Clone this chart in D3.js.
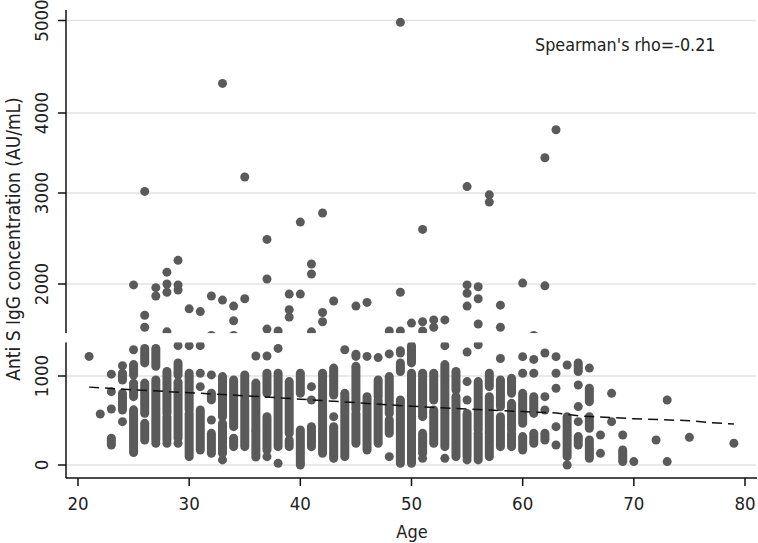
<!DOCTYPE html>
<html>
<head>
<meta charset="utf-8">
<script src="https://cdn.jsdelivr.net/npm/d3@7/dist/d3.min.js"></script>
<style>
  html, body { margin: 0; padding: 0; background: #fff; }
  svg { display: block; }
  text { font-family: "DejaVu Sans Condensed", "DejaVu Sans", sans-serif; fill: #222; }
</style>
</head>
<body>
<svg id="chart" width="758" height="543"></svg>
<script>
// tick labels
var xTicks = [20, 30, 40, 50, 60, 70, 80];
var yTicks = [0, 1000, 2000, 3000, 4000, 5000];

// lower cluster: [age, low, high] -- stacked dots read as a run
var lowerColumns = [
  [21,1213,1213],[22,573,573],
  [23,1020,1020],[23,824,824],[23,629,629],[23,225,300],
  [24,1112,1112],[24,955,1030],[24,618,805],[24,487,487],
  [25,1285,1285],[25,1011,1124],[25,768,918],[25,140,620],
  [26,1142,1300],[26,581,920],[26,281,468],
  [27,1105,1300],[27,281,955],[27,244,244],
  [28,581,1049],[28,281,543],[28,244,244],
  [29,1330,1330],[29,1011,1142],[29,300,930],[29,244,244],
  [30,1330,1330],[30,618,1030],[30,94,580],
  [31,1330,1330],[31,1030,1030],[31,880,880],[31,169,618],
  [32,1012,1012],[32,731,806],[32,506,506],[32,132,356],
  [33,543,993],[33,131,468],[33,57,57],
  [34,431,956],[34,206,300],
  [35,768,1011],[35,206,730],
  [36,1217,1217],[36,780,920],[36,400,770],[36,90,380],
  [37,1218,1218],[37,805,1030],[37,169,543],[37,94,94],
  [38,1300,1300],[38,206,1030],[38,19,19],
  [39,356,937],[39,206,280],
  [40,805,1030],[40,19,393],[40,0,0],
  [41,880,880],[41,730,730],[41,206,431],
  [42,131,1030],
  [43,787,1086],[43,543,543],[43,131,431],[43,75,113],
  [44,1285,1285],[44,94,805],
  [45,1213,1236],[45,618,1105],[45,244,580],
  [46,1213,1213],[46,169,768],
  [47,1200,1200],[47,768,955],[47,244,730],
  [48,1240,1240],[48,580,993],[48,356,506],[48,94,94],
  [49,1250,1274],[49,1049,1142],[49,19,730],
  [50,1142,1330],[50,19,1030],
  [51,543,1030],[51,131,356],[51,75,75],
  [52,730,1030],[52,244,618],
  [53,1330,1330],[53,206,1124],[53,75,75],
  [54,843,1049],[54,94,768],
  [55,1260,1260],[55,937,937],[55,730,730],[55,94,580],[55,57,57],
  [56,1340,1340],[56,393,937],[56,57,356],
  [57,880,1030],[57,94,768],
  [58,1190,1190],[58,655,955],[58,206,543],
  [59,805,974],[59,393,693],[59,206,356],
  [60,1210,1210],[60,1030,1030],[60,468,805],[60,169,319],
  [61,1180,1180],[61,1030,1030],[61,580,768],[61,244,356],
  [62,1250,1250],[62,768,768],[62,618,618],[62,281,356],
  [63,1210,1210],[63,1030,1030],[63,862,862],[63,431,431],[63,225,225],
  [64,1120,1120],[64,94,543],[64,0,0],
  [65,1049,1142],[65,899,899],[65,656,656],[65,487,487],[65,225,319],
  [66,1086,1086],[66,712,862],[66,412,543],[66,75,281],
  [67,337,337],[67,131,131],
  [68,805,805],[68,487,487],
  [69,337,337],[69,38,169],
  [70,38,38],[72,281,281],
  [73,730,730],[73,38,38],
  [75,311,311],[79,244,244]
];

// high values: [age, value]
var upperPoints = [
  [25,1990],[26,3020],[26,1660],[26,1530],[27,1960],[27,1870],
  [28,2130],[28,2000],[28,1910],[28,1480],[29,2260],[29,1990],[29,1935],
  [30,1730],[31,1700],[32,1870],[32,1440],[33,4320],[33,1825],
  [34,1760],[34,1600],[34,1440],[35,3200],[35,1840],
  [37,2490],[37,2055],[37,1510],[38,1490],[39,1890],[39,1720],[39,1640],
  [40,2680],[40,1890],[41,2220],[41,2110],[41,1480],
  [42,2780],[42,1690],[42,1590],[43,1815],[45,1760],[46,1800],
  [48,1490],[49,4980],[49,1910],[49,1490],[50,1575],
  [51,2600],[51,1590],[51,1490],[52,1610],[52,1530],[53,1610],
  [55,3080],[55,1990],[55,1900],[55,1760],[56,1970],[56,1840],[56,1565],
  [57,2980],[57,2900],[58,1770],[58,1530],[60,2010],[61,1440],
  [62,3440],[62,1980],[63,3790]
];

// fitted trend (dashed)
var fitAges   = [21, 25, 30, 35, 40, 45, 50, 55, 60, 63, 65, 70, 75, 77, 79];
var fitValues = [875, 845, 812, 778, 740, 700, 660, 628, 600, 585, 552, 520, 498, 476, 460];

// hidden strip across the axis (as in the source image)
var breakBand = [1365, 1466];

var svg = d3.select("#chart");

var x = d3.scaleLinear().domain([20, 80]).range([78, 745]);
var y = d3.scaleLinear()
    .domain([0, 1000, 2000, 3000, 4000, 5000])
    .range([465, 376, 284, 193, 113, 20.5]);

var plotLeft = 66, plotRight = 757, axisY = 478;

// gridlines
svg.append("g").selectAll("line")
    .data(yTicks)
    .enter().append("line")
    .attr("x1", plotLeft + 1).attr("x2", plotRight - 1)
    .attr("y1", d => y(d)).attr("y2", d => y(d))
    .attr("stroke", "#e2e2e2")
    .attr("stroke-width", 1.5);

var dotColor = "#5a5a5a";

// lower columns
svg.append("g").selectAll("line")
    .data(lowerColumns)
    .enter().append("line")
    .attr("x1", d => x(d[0])).attr("x2", d => x(d[0]))
    .attr("y1", d => y(d[1])).attr("y2", d => y(d[2]))
    .attr("stroke", dotColor)
    .attr("stroke-width", 9)
    .attr("stroke-linecap", "round");

// upper points
svg.append("g").selectAll("circle")
    .data(upperPoints)
    .enter().append("circle")
    .attr("cx", d => x(d[0]))
    .attr("cy", d => y(d[1]))
    .attr("r", 4.5)
    .attr("fill", dotColor);

// fit line
var line = d3.line()
    .x(d => x(d[0]))
    .y(d => y(d[1]));

svg.append("path")
    .datum(fitAges.map((a, i) => [a, fitValues[i]]))
    .attr("d", line)
    .attr("fill", "none")
    .attr("stroke", "#111")
    .attr("stroke-width", 1.5)
    .attr("stroke-dasharray", "10,6");

// axes
var yAxis = svg.append("g");
yAxis.append("line")
    .attr("x1", plotLeft).attr("x2", plotLeft)
    .attr("y1", 10).attr("y2", axisY)
    .attr("stroke", "#111").attr("stroke-width", 1.5);
yAxis.selectAll(".tick")
    .data(yTicks)
    .enter().append("line")
    .attr("x1", plotLeft - 8).attr("x2", plotLeft)
    .attr("y1", d => y(d)).attr("y2", d => y(d))
    .attr("stroke", "#111").attr("stroke-width", 1.5);
yAxis.selectAll("text")
    .data(yTicks)
    .enter().append("text")
    .attr("transform", d => `translate(48, ${y(d)}) rotate(-90)`)
    .attr("text-anchor", "middle")
    .style("font-size", "18.5px")
    .text(d => d);

var xAxis = svg.append("g");
xAxis.append("line")
    .attr("x1", plotLeft).attr("x2", plotRight)
    .attr("y1", axisY).attr("y2", axisY)
    .attr("stroke", "#111").attr("stroke-width", 1.5);
xAxis.selectAll(".tick")
    .data(xTicks)
    .enter().append("line")
    .attr("x1", d => x(d)).attr("x2", d => x(d))
    .attr("y1", axisY).attr("y2", axisY + 8)
    .attr("stroke", "#111").attr("stroke-width", 1.5);
xAxis.selectAll("text")
    .data(xTicks)
    .enter().append("text")
    .attr("x", d => x(d))
    .attr("y", 510)
    .attr("text-anchor", "middle")
    .style("font-size", "18.5px")
    .text(d => d);

// break strip
svg.append("rect")
    .attr("x", plotLeft - 10)
    .attr("width", plotRight - plotLeft + 12)
    .attr("y", y(breakBand[1]))
    .attr("height", y(breakBand[0]) - y(breakBand[1]))
    .attr("fill", "#fff");

// titles
svg.append("text")
    .attr("x", 412).attr("y", 538)
    .attr("text-anchor", "middle")
    .style("font-size", "18px")
    .text("Age");

svg.append("text")
    .attr("transform", "translate(20, 239) rotate(-90)")
    .attr("text-anchor", "middle")
    .style("font-size", "19px")
    .text("Anti S IgG concentration (AU/mL)");

svg.append("text")
    .attr("x", 535).attr("y", 51)
    .style("font-size", "17.8px")
    .text("Spearman's rho=-0.21");
</script>
</body>
</html>
